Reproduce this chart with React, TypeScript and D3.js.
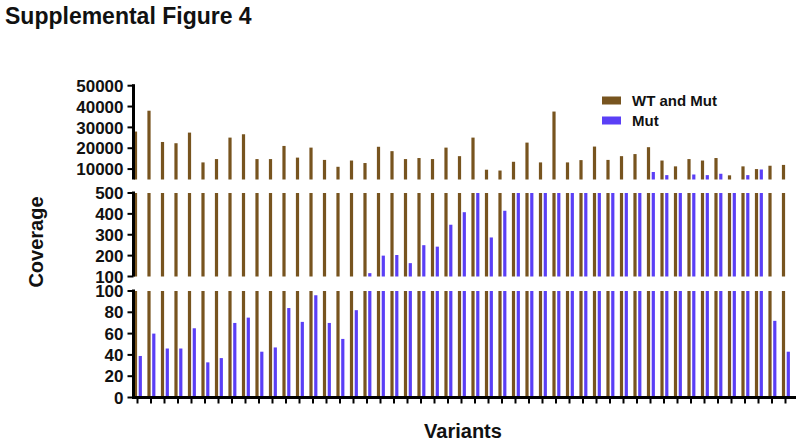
import React from "react";
import * as d3 from "d3";

const categories: number[] = d3.range(49);

const wtAndMut: number[] = [
  28000, 38000, 23000, 22400, 27500, 13200, 14800, 25100, 26700, 14800,
  14800, 21100, 15500, 20300, 14400, 11100, 14100, 12900, 20700, 18600,
  14800, 15300, 14800, 20300, 16200, 25100, 9700, 9300, 13500, 22700,
  13200, 37600, 13200, 14300, 20800, 14400, 16200, 17200, 20500, 14100,
  11300, 14800, 14100, 15300, 7000, 11300, 10000, 11600, 12000,
];

const mut: number[] = [
  39, 60, 46, 46, 65, 33, 37, 70, 75, 43,
  47, 84, 71, 96, 70, 55, 82, 116, 200, 203,
  164, 250, 243, 348, 408, 2400, 287, 415, 1800, 3200,
  2600, 1500, 3800, 2100, 2900, 1700, 3400, 4200, 8600, 7100,
  2500, 7400, 7100, 7750, 3000, 7100, 9800, 72, 43,
];

const topTicks: number[] = [10000, 20000, 30000, 40000, 50000];
const midTicks: number[] = [100, 200, 300, 400, 500];
const lowTicks: number[] = [0, 20, 40, 60, 80, 100];

const seriesNames: string[] = ["WT and Mut", "Mut"];
const colors: string[] = ["#77541f", "#5a3ff6"];

const W = 797;
const H = 442;
const axisX = 133.5;
const FONT = "'Liberation Sans', Arial, Helvetica, sans-serif";

type Seg = { lo: number; hi: number; y0: number; y1: number; ticks: number[] };

const segments: Seg[] = [
  { lo: 0, hi: 100, y0: 397.5, y1: 291, ticks: lowTicks },
  { lo: 100, hi: 500, y0: 276.5, y1: 193, ticks: midTicks },
  { lo: 5000, hi: 50000, y0: 179.5, y1: 85.7, ticks: topTicks },
];

export default function App() {
  const x = d3.scalePoint<number>().domain(categories).range([137.5, 785.5]);
  const barW = 3.2;
  const offsets = [-3.6, 1.2];
  const series = [wtAndMut, mut];

  return (
    <svg
      width={W}
      height={H}
      style={{ position: "absolute", left: 0, top: 0, background: "#fff" }}
      fontFamily={FONT}
    >
      <rect x={0} y={0} width={W} height={H} fill="#fff" />
      <text x={5} y={24} fontSize={23} fontWeight="bold" fill="#111">
        Supplemental Figure 4
      </text>

      {segments.map((s, si) => {
        const y = d3.scaleLinear().domain([s.lo, s.hi]).range([s.y0, s.y1]).clamp(true);
        return (
          <g key={si}>
            {series.map((vals, k) =>
              vals.map((v, i) => {
                if (v <= s.lo) return null;
                const top = y(v);
                const cx = x(categories[i]) as number;
                return (
                  <rect
                    key={k + "-" + i}
                    x={cx + offsets[k]}
                    y={top}
                    width={barW}
                    height={Math.max(0, s.y0 - top)}
                    fill={colors[k]}
                  />
                );
              })
            )}
            <line
              x1={axisX}
              x2={axisX}
              y1={s.y1 - 1.5}
              y2={s.y0 + (si === 0 ? 1.5 : 0)}
              stroke="#000"
              strokeWidth={3}
            />
            {s.ticks.map((t) => (
              <g key={t}>
                <line x1={axisX - 6} x2={axisX} y1={y(t)} y2={y(t)} stroke="#000" strokeWidth={2} />
                <text
                  x={axisX - 10}
                  y={y(t)}
                  dy="0.36em"
                  textAnchor="end"
                  fontSize={17}
                  fontWeight="bold"
                  fill="#111"
                >
                  {t}
                </text>
              </g>
            ))}
          </g>
        );
      })}

      <line x1={axisX - 1.5} x2={796} y1={397.5} y2={397.5} stroke="#000" strokeWidth={3} />
      {categories.map((c) => (
        <line
          key={c}
          x1={x(c) as number}
          x2={x(c) as number}
          y1={397}
          y2={403.5}
          stroke="#000"
          strokeWidth={2}
        />
      ))}

      <text
        transform="translate(43,242) rotate(-90)"
        textAnchor="middle"
        fontSize={20}
        fontWeight="bold"
        fill="#111"
      >
        Coverage
      </text>
      <text x={463} y={438} textAnchor="middle" fontSize={20} fontWeight="bold" fill="#111">
        Variants
      </text>

      {seriesNames.map((n, k) => (
        <g key={n} transform={`translate(602,${96.5 + k * 20})`}>
          <rect x={0} y={0} width={19} height={8} fill={colors[k]} />
          <text x={30} y={4} dy="0.36em" fontSize={15} fontWeight="bold" fill="#111">
            {n}
          </text>
        </g>
      ))}
    </svg>
  );
}
